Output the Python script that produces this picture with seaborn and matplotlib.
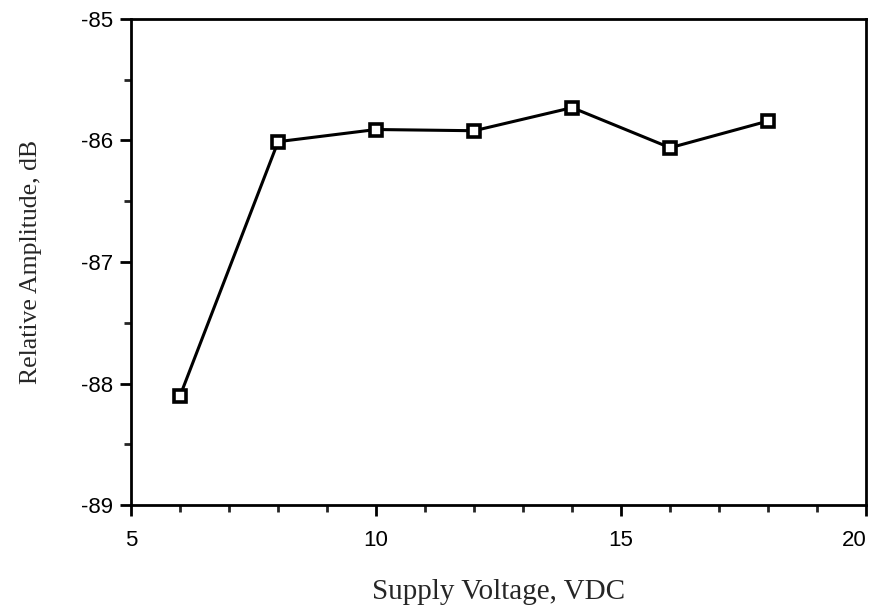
import matplotlib
matplotlib.use("Agg")
import matplotlib.pyplot as plt
from matplotlib.ticker import MultipleLocator
import pandas as pd
import seaborn as sns

# values
voltage = [6, 8, 10, 12, 14, 16, 18]
amplitude = [-88.10, -86.01, -85.91, -85.92, -85.73, -86.06, -85.84]
x_ticks = [5, 10, 15, 20]
x_ticklabels = ["5", "10", "15", "20"]

df = pd.DataFrame({"voltage": voltage, "amplitude": amplitude})

sns.set_style("ticks")
plt.rcParams['font.family'] = ['Liberation Sans', 'DejaVu Sans']
plt.rcParams['axes.unicode_minus'] = False

fig = plt.figure(figsize=(8.74, 6.10), dpi=100)
ax = fig.add_axes([0.150, 0.172, 0.841, 0.797])

sns.lineplot(data=df, x="voltage", y="amplitude", ax=ax, color="black",
             linewidth=2.2, marker="s", markersize=8.5, markerfacecolor="white",
             markeredgecolor="black", markeredgewidth=2.6)

ax.set_xlim(5, 20)
ax.set_ylim(-89, -85)
ax.set_xticks(x_ticks, x_ticklabels)
ax.xaxis.set_minor_locator(MultipleLocator(1))
ax.yaxis.set_major_locator(MultipleLocator(1))
ax.yaxis.set_minor_locator(MultipleLocator(0.5))

for side in ["top", "right", "bottom", "left"]:
    ax.spines[side].set_visible(True)
    ax.spines[side].set_linewidth(2.0)
    ax.spines[side].set_color("black")

ax.tick_params(axis="both", which="major", direction="out", length=8, width=2,
               labelsize=16, colors="black")
ax.tick_params(axis="x", which="major", pad=10)
ax.tick_params(axis="y", which="major", pad=5)
ax.tick_params(axis="both", which="minor", direction="out", length=5, width=2)
ax.tick_params(top=False, right=False, which="both")

# keep the "20" inside the figure like the original
ax.get_xticklabels()[-1].set_horizontalalignment("right")

ax.set_xlabel("Supply Voltage, VDC", fontsize=21, family=["Liberation Serif"],
              labelpad=20)
ax.set_ylabel("Relative Amplitude, dB", fontsize=18.5, family=["Liberation Serif"],
              labelpad=28)

fig.savefig("out.png", dpi=100)
